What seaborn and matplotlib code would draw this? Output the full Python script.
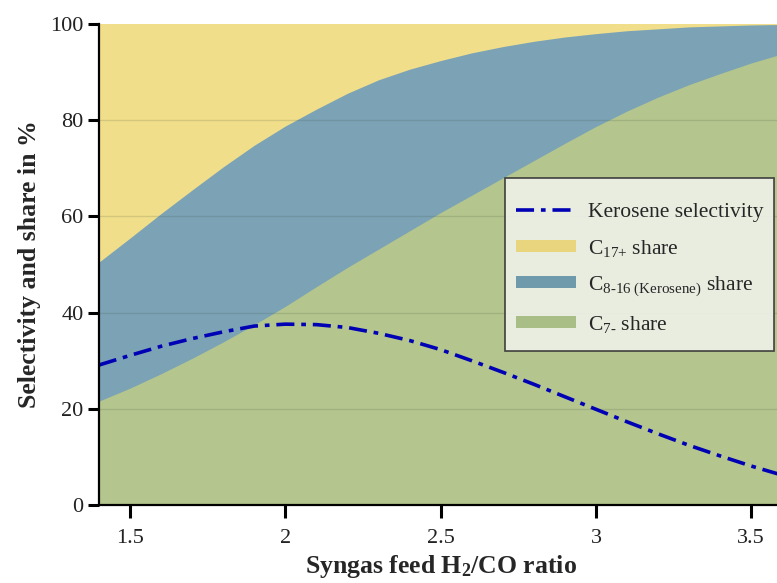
import numpy as np
import pandas as pd
import matplotlib
matplotlib.use("Agg")
import matplotlib.pyplot as plt
import seaborn as sns
from matplotlib.patches import Patch, Rectangle
from matplotlib.lines import Line2D
from matplotlib.legend_handler import HandlerPatch
from matplotlib.path import Path

# ---- data ----
h2co_ratio = [1.4, 1.5, 1.6, 1.7, 1.8, 1.9, 2.0, 2.1, 2.2, 2.3, 2.4, 2.5,
              2.6, 2.7, 2.8, 2.9, 3.0, 3.1, 3.2, 3.3, 3.4, 3.5, 3.6]
c7_share = [21.6, 24.3, 27.3, 30.5, 33.9, 37.5, 41.3, 45.4, 49.4, 53.2, 57.0, 60.8,
            64.4, 68.0, 71.6, 75.2, 78.7, 81.9, 84.8, 87.4, 89.7, 91.9, 93.8]
c8_16_share = [28.9, 31.2, 33.3, 35.0, 36.4, 37.3, 37.5, 36.9, 36.2, 35.2, 33.6, 31.6,
               29.6, 27.3, 24.8, 22.1, 19.3, 16.7, 14.2, 12.0, 9.9, 7.9, 6.1]
kerosene_selectivity = [29.1, 31.1, 33.0, 34.6, 36.0, 37.2, 37.6, 37.5, 36.9, 35.7, 34.2, 32.3,
                        30.0, 27.6, 25.1, 22.5, 19.9, 17.3, 14.8, 12.4, 10.2, 8.1, 6.2]

x_ticks = [1.5, 2, 2.5, 3, 3.5]
x_tick_labels = ["1.5", "2", "2.5", "3", "3.5"]
y_ticks = [0, 20, 40, 60, 80, 100]

df = pd.DataFrame({
    "ratio": h2co_ratio,
    "c7": c7_share,
    "c8_16": c8_16_share,
    "sel": kerosene_selectivity,
})
df["c16_top"] = df["c7"] + df["c8_16"]

# ---- style ----
sns.set_style("white")
plt.rcParams["font.family"] = ["Liberation Serif", "DejaVu Serif"]
plt.rcParams["mathtext.fontset"] = "custom"
plt.rcParams["mathtext.rm"] = "Liberation Serif"
plt.rcParams["mathtext.it"] = "Liberation Serif:italic"
plt.rcParams["mathtext.bf"] = "Liberation Serif:bold"

col_yellow = "#F0DE8A"
col_blue = "#7BA3B5"
col_green = "#B4C58E"
col_line = "#0000B4"
line_dashes = (5, 1.9, 1.3, 1.9)

fig = plt.figure(figsize=(7.77, 5.83), dpi=100)
ax_w = 782.3 - 99
ax = fig.add_axes([99 / 777, 78 / 583, ax_w / 777, 481 / 583])

ax.fill_between(df["ratio"], 0, 100, color=col_yellow, lw=0, zorder=1)
ax.fill_between(df["ratio"], 0, df["c16_top"], color=col_blue, lw=0, zorder=2)
ax.fill_between(df["ratio"], 0, df["c7"], color=col_green, lw=0, zorder=3)

for yv in [20, 40, 60, 80]:
    ax.axhline(yv, color="#3d4a3d", alpha=0.16, lw=1.0, zorder=4)

sns.lineplot(data=df, x="ratio", y="sel", ax=ax, color=col_line, lw=2.6,
             zorder=5, legend=False)
ax.lines[-1].set_dashes(line_dashes)
ax.lines[-1].set_dash_capstyle("butt")

ax.set_xlim(1.4, 3.6)
ax.set_ylim(0, 100)
ax.set_xticks(x_ticks)
ax.set_xticklabels(x_tick_labels)
ax.set_yticks(y_ticks)

for s in ["top", "right"]:
    ax.spines[s].set_visible(False)
for s in ["left", "bottom"]:
    ax.spines[s].set_linewidth(1.6)
    ax.spines[s].set_color("black")
    ax.spines[s].set_zorder(6)

ax.tick_params(axis="y", direction="out", length=8, width=2.2, labelsize=16,
               pad=3, left=True, colors="black", labelcolor="#222222")
ax.tick_params(axis="x", direction="out", length=9, width=2.2, labelsize=16,
               pad=8, bottom=True, colors="black", labelcolor="#222222")

ax.set_xlabel(r"Syngas feed H$_\mathbf{2}$/CO ratio", fontsize=18.5,
              fontweight="bold", labelpad=4)
ax.set_ylabel("Selectivity and share in %", fontsize=18.5, fontweight="bold",
              labelpad=7)


def thin_patch(legend, orig_handle, xdescent, ydescent, width, height, fontsize):
    ph = 8.6  # points
    return Rectangle((-xdescent, -ydescent + (height - ph) / 2), width, ph)


def tall_box(x0, y0, width, height, mutation_size):
    t = 0.65 * mutation_size
    b = 0.28 * mutation_size
    verts = [(x0, y0 - b), (x0 + width, y0 - b), (x0 + width, y0 + height + t),
             (x0, y0 + height + t), (x0, y0 - b)]
    return Path(verts, closed=True)


handles = [
    Line2D([0], [0], color=col_line, lw=2.6, dashes=line_dashes,
           dash_capstyle="butt"),
    Patch(facecolor="#E8D57E", edgecolor="none"),
    Patch(facecolor="#6F9AAC", edgecolor="none"),
    Patch(facecolor="#A9BE86", edgecolor="none"),
]
labels = [
    "Kerosene selectivity",
    r"C$_\mathrm{17{+}}$ share",
    r"C$_\mathrm{8‐16\ (Kerosene)}$ share",
    r"C$_\mathrm{7{‐}}$ share",
]
hp = HandlerPatch(patch_func=thin_patch)
leg = ax.legend(handles, labels, loc="upper left",
                bbox_to_anchor=((505 - 99) / ax_w, (505 - 192) / 481),
                fontsize=15.5, frameon=True, fancybox=False,
                handlelength=2.8, handleheight=0.6, handletextpad=0.55,
                labelspacing=0.72, borderpad=0.5, borderaxespad=0.0,
                handler_map={Patch: hp})
frame = leg.get_frame()
frame.set_boxstyle(tall_box)
frame.set_facecolor("#EEF1E8")
frame.set_alpha(0.92)
frame.set_edgecolor("#333333")
frame.set_linewidth(1.2)
leg.set_zorder(7)

fig.savefig("out.png", dpi=100)
